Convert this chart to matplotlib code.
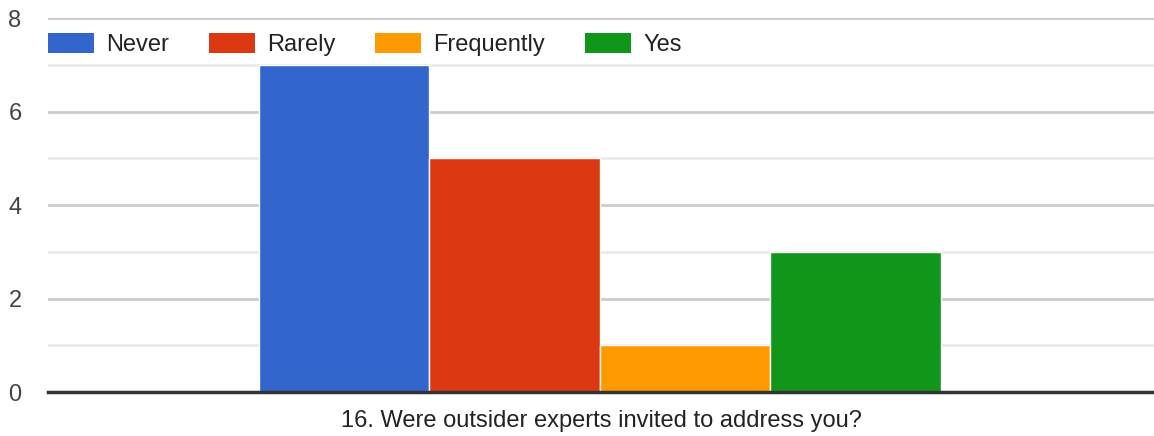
import matplotlib.pyplot as plt
from matplotlib.patches import Patch

CATEGORIES = ["Never", "Rarely", "Frequently", "Yes"]
COUNTS = [7, 5, 1, 3]
COLORS = ["#3366cc", "#dc3912", "#ff9900", "#109618"]
Y_MAJOR = [0, 2, 4, 6, 8]
Y_MINOR = [1, 3, 5, 7]
XLABEL = "16. Were outsider experts invited to address you?"

TEXT = "#222222"
TICK = "#444444"
FS = 17

plt.rcParams["font.family"] = ["Liberation Sans", "DejaVu Sans"]

fig = plt.figure(figsize=(11.54, 4.36), dpi=100, facecolor="white")
ax = fig.add_axes([0.0416, 0.1009, 0.9584, 0.8578])

bar_w = 0.1542
for i, (cat, val, col) in enumerate(zip(CATEGORIES, COUNTS, COLORS)):
    x = (i - 1.5) * bar_w - 0.001
    ax.bar(x, val, width=bar_w, color=col, edgecolor="white", linewidth=1, zorder=3)

ax.set_xlim(-0.5, 0.5)
ax.set_ylim(0, 8)
ax.set_xticks([])
ax.set_yticks(Y_MAJOR)
ax.set_yticks(Y_MINOR, minor=True)
ax.tick_params(axis="y", which="both", length=0, pad=19, labelsize=FS, labelcolor=TICK)
ax.grid(True, axis="y", which="major", color="#cccccc", linewidth=2, zorder=0)
ax.grid(True, axis="y", which="minor", color="#ebebeb", linewidth=2, zorder=0)
for side in ["top", "right", "left"]:
    ax.spines[side].set_visible(False)
ax.spines["bottom"].set_color("#333333")
ax.spines["bottom"].set_linewidth(2.5)
ax.spines["bottom"].set_zorder(4)

ax.set_xlabel(XLABEL, fontsize=FS, color=TEXT, labelpad=13)

px = FS * 100 / 72
handles = [Patch(facecolor=c, edgecolor="none") for c in COLORS]
ax.legend(
    handles,
    CATEGORIES,
    loc="center left",
    bbox_to_anchor=(0.0, 0.93),
    ncol=4,
    frameon=False,
    fontsize=FS,
    handlelength=46 / px,
    handleheight=22 / px,
    handletextpad=12 / px,
    columnspacing=40 / px,
    borderaxespad=0,
    borderpad=0,
    labelcolor=TEXT,
)

fig.savefig("out.png", dpi=100, facecolor="white")
